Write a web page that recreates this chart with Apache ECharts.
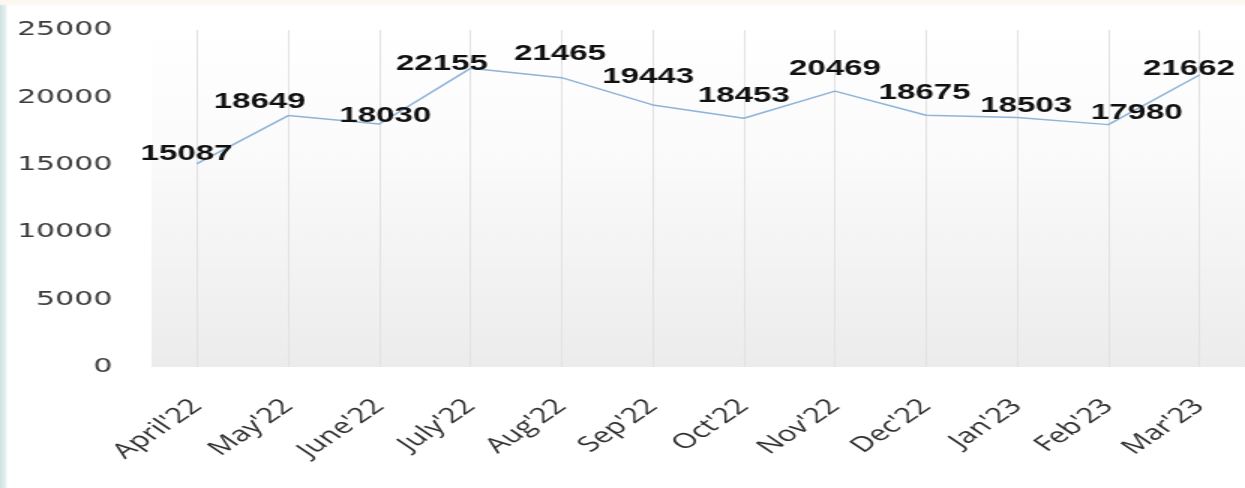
<!DOCTYPE html>
<html>
<head>
<meta charset="utf-8">
<title>Monthly count, April'22 - Mar'23</title>
<script src="https://cdn.jsdelivr.net/npm/echarts@6/dist/echarts.min.js"></script>
<style>
  html, body { margin: 0; padding: 0; width: 1245px; height: 488px; overflow: hidden; }
  body {
    background:
      linear-gradient(to bottom, #fcf7f0 0, #fcf7f0 4px, rgba(255,255,255,0) 6px),
      linear-gradient(to right, #cde3e1 0, #e2eeed 5px, #ffffff 8px);
  }
  /* the chart is laid out on a narrower canvas and widened, giving the broad lettering */
  #chart { width: 830px; height: 488px; transform: scaleX(1.5); transform-origin: 0 0; }
</style>
</head>
<body>
<div id="chart"></div>
<script>
// Months shown on the category axis
const months = ["April'22", "May'22", "June'22", "July'22", "Aug'22", "Sep'22",
                "Oct'22", "Nov'22", "Dec'22", "Jan'23", "Feb'23", "Mar'23"];
// Monthly totals
const counts = [15087, 18649, 18030, 22155, 21465, 19443,
                18453, 20469, 18675, 18503, 17980, 21662];
// Value axis range and step
const yMin = 0;
const yMax = 25000;
const yStep = 5000;

// Small per-point shifts so the value labels sit clear of the line
const labelNudges = [[-7, 7], [-19, 3], [4, 8], [-19, 12], [-1, -7], [-3, -11],
                     [0, -6], [0, -6], [-1, -6], [6, 5], [19, 5], [-7, 10]];

const chart = echarts.init(document.getElementById('chart'), null, { renderer: 'canvas' });

const seriesData = counts.map((v, i) => ({
  value: v,
  label: { offset: labelNudges[i] }
}));

chart.setOption({
  animation: false,
  backgroundColor: 'transparent',
  grid: {
    left: 101,
    top: 30,
    width: 734,
    height: 337,
    show: true,
    borderWidth: 0,
    backgroundColor: {
      type: 'linear', x: 0, y: 0, x2: 0, y2: 1,
      colorStops: [
        { offset: 0, color: '#ffffff' },
        { offset: 0.35, color: '#fbfbfb' },
        { offset: 1, color: '#ececec' }
      ]
    }
  },
  xAxis: {
    type: 'category',
    data: months,
    boundaryGap: true,
    axisLine: { show: false },
    axisTick: { show: false, alignWithLabel: true },
    splitLine: { show: true, alignWithLabel: true, lineStyle: { color: '#e2e2e2', width: 1 } },
    axisLabel: {
      rotate: 45,
      margin: 36,
      interval: 0,
      fontFamily: 'Open Sans',
      fontSize: 21,
      color: '#2e2e2e'
    }
  },
  yAxis: {
    type: 'value',
    min: yMin,
    max: yMax,
    interval: yStep,
    axisLine: { show: false },
    axisTick: { show: false },
    splitLine: { show: false },
    axisLabel: {
      margin: 26,
      fontFamily: 'DejaVu Sans',
      fontSize: 20,
      color: '#3c3c3c',
      formatter: (v) => String(v)
    }
  },
  series: [{
    type: 'line',
    data: seriesData,
    symbol: 'circle',
    symbolSize: 1,
    showSymbol: true,
    itemStyle: { color: '#8fb4d8' },
    lineStyle: { color: '#8fb4d8', width: 1.5 },
    label: {
      show: true,
      position: 'top',
      fontFamily: 'Liberation Sans',
      fontWeight: 'bold',
      fontSize: 22,
      color: '#111111'
    }
  }]
});
</script>
</body>
</html>
